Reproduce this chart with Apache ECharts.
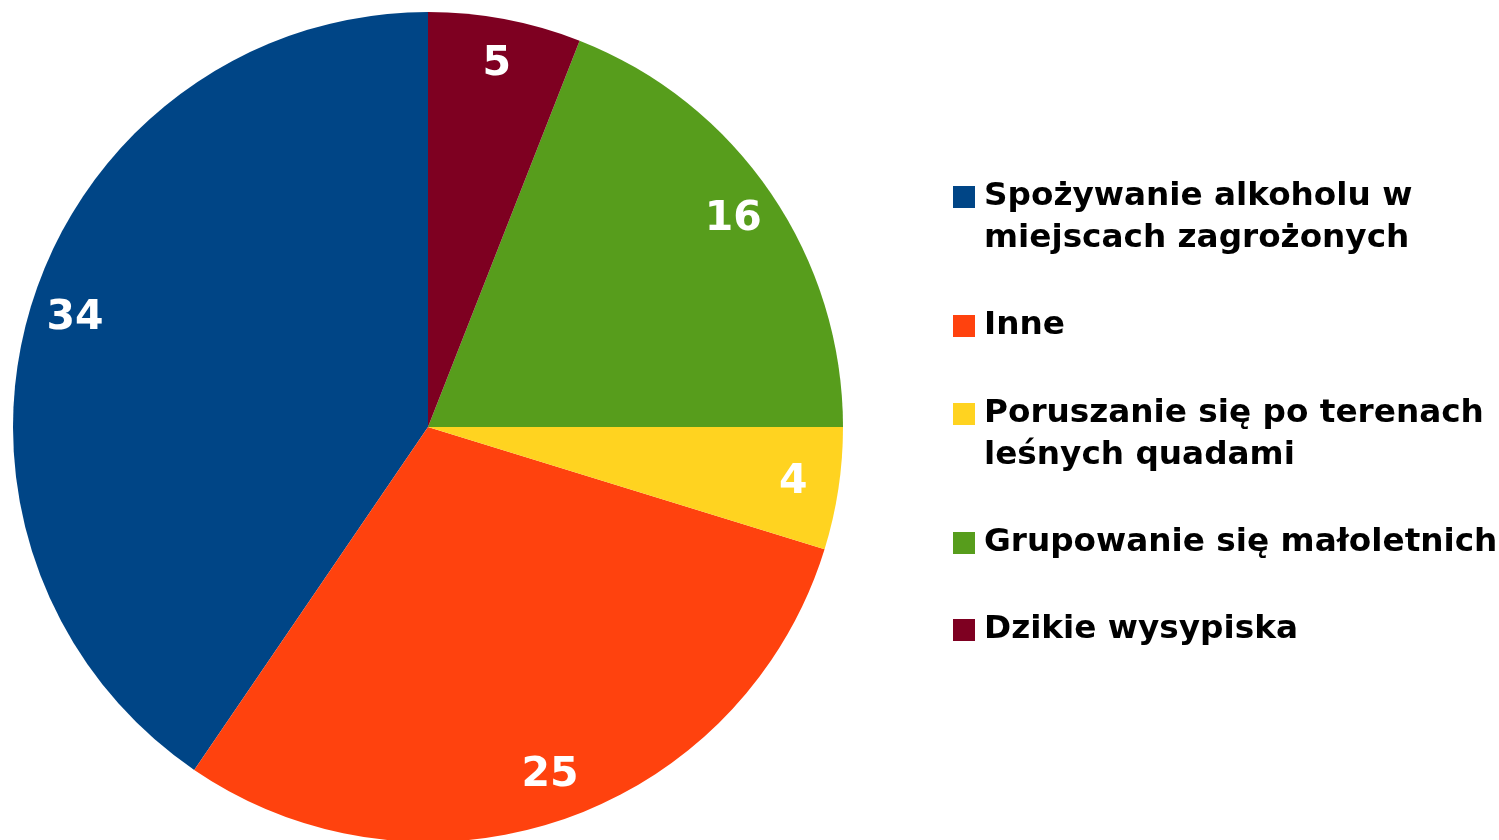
<!DOCTYPE html>
<html>
<head>
<meta charset="utf-8">
<script src="https://cdn.jsdelivr.net/npm/echarts@6/dist/echarts.min.js"></script>
<style>
html,body{margin:0;padding:0;background:#fff;}
#chart{width:1499px;height:840px;}
</style>
</head>
<body>
<div id="chart"></div>
<script>
// ---- data ----
const categories = [
  'Spożywanie alkoholu w\nmiejscach zagrożonych',
  'Inne',
  'Poruszanie się po terenach\nleśnych quadami',
  'Grupowanie się małoletnich',
  'Dzikie wysypiska'
];
const values = [34, 25, 4, 16, 5];
const colors = ['#004586', '#ff420e', '#ffd320', '#579d1c', '#7e0021'];

// ---- layout ----
const CX = 428, CY = 427, R = 415;
const LINE_H = 42;
const SQ = 22;
const legendCenters = [197, 326, 414, 543, 630];
const FONT = '"DejaVu Sans", sans-serif';

const chart = echarts.init(document.getElementById('chart'), null, {renderer: 'canvas'});

const pieData = categories.map((n, i) => ({name: n, value: values[i], itemStyle: {color: colors[i]}}));

const legends = categories.map((n, i) => {
  const lines = n.split('\n').length;
  const h = lines > 1 ? SQ + LINE_H * (lines - 1) : SQ;
  const icon = lines > 1
    ? 'path://M0,0H' + SQ + 'V' + SQ + 'H0Z M0,' + h + 'L0,' + h
    : 'rect';
  return {
    data: [{name: n, icon: icon}],
    orient: 'vertical',
    left: 953,
    top: legendCenters[i] - LINE_H / 2,
    padding: 0,
    itemWidth: SQ,
    itemHeight: h,
    selectedMode: false,
    itemStyle: {borderWidth: 0},
    textStyle: {
      fontFamily: FONT,
      fontWeight: 'bold',
      fontSize: 32.7,
      lineHeight: LINE_H,
      color: '#000',
      padding: [0, 0, 0, 4]
    }
  };
});

chart.setOption({
  animation: false,
  legend: legends,
  series: [
    {
      type: 'pie',
      center: [CX, CY],
      radius: [0, R],
      startAngle: 90,
      clockwise: false,
      silent: true,
      label: {show: false},
      labelLine: {show: false},
      itemStyle: {borderWidth: 0},
      data: pieData
    },
    {
      type: 'pie',
      center: [CX, CY],
      radius: [318, R],
      startAngle: 90,
      clockwise: false,
      silent: true,
      itemStyle: {color: 'transparent', borderWidth: 0},
      label: {
        show: true,
        position: 'inside',
        formatter: '{c}',
        fontFamily: FONT,
        fontWeight: 'bold',
        fontSize: 41,
        color: '#fff',
        textShadowColor: '#000',
        textShadowOffsetX: 2,
        textShadowOffsetY: 2,
        textShadowBlur: 0,
        textBorderWidth: 0
      },
      labelLine: {show: false},
      data: categories.map((n, i) => ({name: n, value: values[i], itemStyle: {color: 'transparent'}}))
    }
  ]
});
</script>
</body>
</html>
